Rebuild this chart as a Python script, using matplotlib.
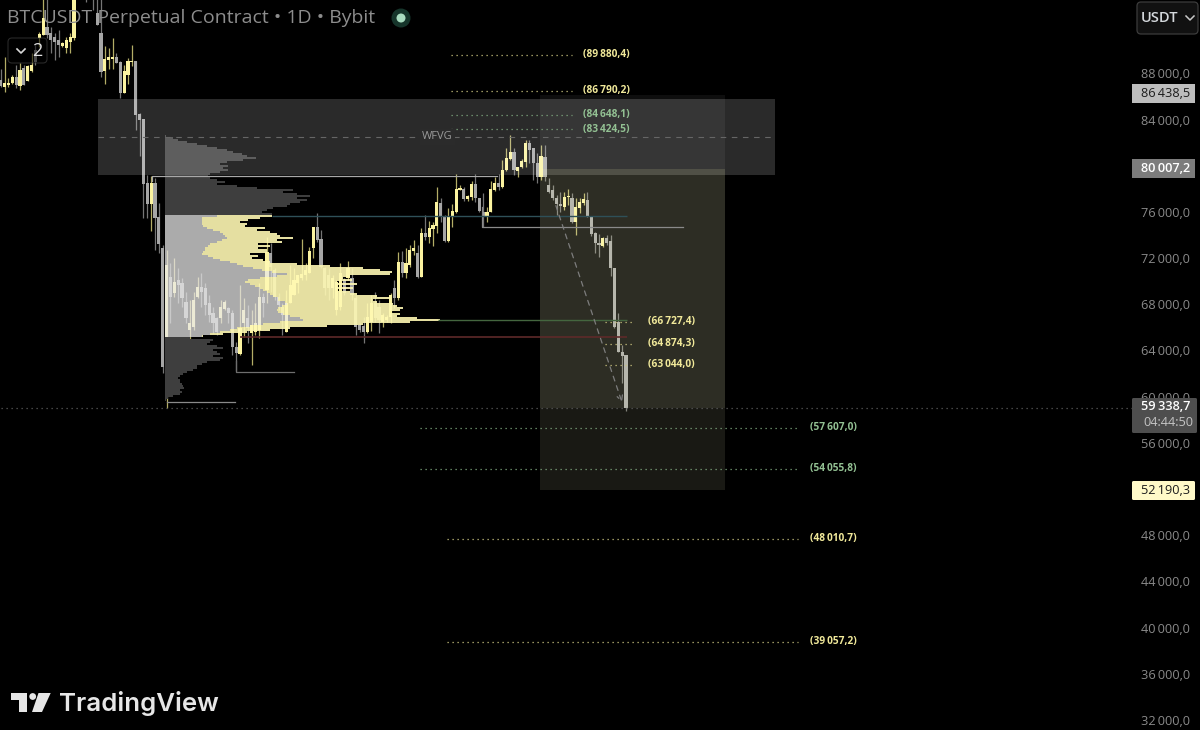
import numpy as np
import matplotlib
matplotlib.use("Agg")
import matplotlib.pyplot as plt
from matplotlib.patches import Circle, FancyBboxPatch, Polygon, Rectangle

plt.rcParams['font.family'] = ['Open Sans', 'DejaVu Sans']

# candles, prices in thousands
highs = [
    88.35, 89.38, 87.57, 87.83, 88.69, 88.86, 88.69, 88.69, 89.80, 90.42,
    91.54, 95.00, 95.00, 91.97, 91.45, 91.71, 90.68, 91.11, 91.45, 95.20,
    97.00, 97.20, 96.50, 96.50, 96.30, 95.00, 94.70, 90.33, 90.16, 91.02,
    89.73, 89.04, 88.69, 89.30, 90.42, 89.04, 84.60, 84.03, 79.19, 79.10,
    78.93, 76.77, 73.14, 72.70, 71.58, 72.00, 71.15, 70.29, 69.08, 68.39,
    69.08, 70.38, 70.72, 69.85, 68.82, 67.78, 66.92, 68.39, 68.39, 67.78,
    67.52, 64.76, 69.68, 68.56, 67.95, 67.52, 68.13, 69.85, 69.00, 73.83,
    73.31, 71.15, 69.00, 68.13, 69.25, 71.41, 71.15, 70.55, 73.66, 71.58,
    72.97, 74.70, 75.90, 74.44, 71.24, 71.15, 70.55, 70.11, 71.58, 70.29,
    71.76, 71.15, 68.82, 66.40, 66.92, 68.13, 68.82, 69.08, 68.39, 67.26,
    67.09, 69.00, 70.11, 72.53, 72.62, 72.88, 73.14, 73.57, 73.14, 74.61,
    75.73, 75.21, 75.13, 78.15, 77.20, 75.73, 76.34, 76.68, 79.27, 78.32,
    78.15, 77.46, 78.67, 79.27, 77.20, 77.63, 76.42, 78.67, 79.00, 79.27,
    80.48, 81.52, 82.64, 81.52, 79.88, 80.57, 82.21, 82.21, 81.52, 81.09,
    81.78, 81.78, 78.93, 78.32, 77.46, 77.72, 77.72, 77.98, 77.63, 77.20,
    77.20, 77.63, 77.72, 75.64, 74.26, 74.09, 73.83, 74.00, 74.00, 71.15,
    67.26, 64.50, 63.63,
]
lows = [
    86.79, 86.36, 86.79, 87.05, 86.70, 86.53, 86.96, 87.31, 88.09, 88.69,
    90.25, 91.28, 91.10, 89.80, 89.12, 89.38, 90.25, 89.80, 89.80, 90.85,
    95.60, 95.40, 94.15, 95.00, 93.44, 92.15, 87.65, 87.05, 88.35, 88.35,
    88.86, 85.84, 86.27, 87.05, 88.60, 83.08, 80.83, 75.47, 75.47, 74.35,
    72.71, 72.45, 62.08, 59.05, 66.40, 68.65, 68.13, 67.78, 66.40, 64.93,
    65.80, 68.56, 67.78, 67.09, 66.49, 65.54, 65.36, 66.40, 67.52, 66.40,
    63.63, 62.25, 63.63, 65.19, 64.67, 62.77, 65.36, 65.10, 66.92, 68.13,
    69.08, 68.39, 67.52, 65.36, 65.62, 68.13, 68.82, 69.00, 70.11, 70.11,
    70.72, 72.00, 73.40, 71.15, 68.82, 68.39, 68.56, 67.09, 67.52, 68.82,
    70.11, 68.39, 65.36, 65.62, 64.67, 65.54, 65.71, 66.49, 65.54, 66.05,
    66.49, 66.40, 67.69, 68.39, 70.38, 70.29, 71.24, 72.27, 70.29, 70.38,
    73.57, 73.31, 73.05, 74.18, 75.13, 73.40, 73.40, 74.70, 75.90, 77.89,
    76.94, 76.94, 77.03, 76.85, 75.99, 74.70, 75.13, 75.99, 77.81, 77.89,
    78.06, 79.53, 80.48, 79.19, 79.00, 79.79, 79.88, 80.22, 78.76, 78.50,
    78.76, 78.67, 77.63, 77.03, 75.73, 75.99, 76.16, 76.60, 75.04, 74.00,
    75.90, 76.60, 75.56, 73.92, 72.45, 72.10, 72.97, 73.14, 70.46, 65.97,
    63.89, 61.20, 58.80,
]
body_tops = [
    87.40, 87.14, 87.14, 87.65, 87.65, 88.26, 88.43, 88.60, 88.69, 90.00,
    91.37, 92.75, 91.97, 91.45, 91.11, 90.85, 90.59, 90.85, 91.11, 94.74,
    96.80, 96.80, 95.80, 96.00, 95.50, 93.18, 91.46, 89.21, 89.38, 89.38,
    89.38, 88.95, 88.17, 89.04, 89.04, 89.04, 84.46, 84.03, 78.50, 78.50,
    78.50, 75.56, 72.88, 71.40, 70.38, 69.94, 70.11, 69.85, 68.20, 66.40,
    68.39, 69.50, 69.50, 69.42, 68.13, 67.26, 66.83, 67.78, 68.20, 67.69,
    67.26, 64.33, 65.97, 67.52, 66.83, 66.23, 66.40, 68.65, 68.65, 72.53,
    72.45, 70.98, 68.65, 67.78, 68.13, 69.68, 70.11, 70.55, 70.63, 70.98,
    72.62, 74.70, 74.70, 73.66, 71.15, 70.55, 70.29, 69.94, 70.72, 70.11,
    71.15, 70.29, 68.56, 66.23, 66.14, 66.92, 68.13, 68.13, 67.78, 67.09,
    66.92, 68.82, 69.42, 71.67, 71.67, 71.58, 72.71, 72.88, 72.45, 74.18,
    74.18, 74.61, 74.87, 76.85, 76.77, 75.56, 75.56, 76.07, 77.98, 78.06,
    77.98, 77.37, 78.41, 78.41, 77.20, 75.99, 75.99, 77.98, 78.50, 78.50,
    79.62, 80.66, 81.17, 81.17, 79.88, 80.40, 81.95, 81.95, 81.52, 80.22,
    80.83, 80.74, 78.32, 77.89, 77.20, 76.68, 77.29, 77.37, 77.20, 76.42,
    76.85, 77.11, 77.03, 75.64, 74.18, 73.31, 73.74, 73.74, 73.48, 71.15,
    66.49, 63.89, 63.63,
]
body_bottoms = [
    86.88, 86.79, 86.96, 87.14, 86.96, 86.88, 86.96, 87.31, 88.17, 88.95,
    91.03, 91.28, 91.28, 90.85, 90.68, 90.42, 90.33, 90.16, 90.68, 91.02,
    96.00, 96.00, 95.00, 95.30, 94.40, 92.15, 88.09, 88.17, 89.12, 89.21,
    88.86, 86.27, 86.27, 87.83, 88.95, 84.37, 83.94, 78.41, 76.68, 76.68,
    75.47, 73.23, 62.60, 62.60, 68.65, 69.00, 69.68, 68.56, 66.83, 65.80,
    66.05, 68.65, 69.08, 67.95, 67.09, 66.40, 65.62, 66.83, 67.61, 67.26,
    64.33, 63.81, 63.72, 66.40, 65.97, 65.54, 65.62, 65.80, 68.13, 69.25,
    71.24, 68.65, 67.95, 67.09, 65.62, 68.13, 68.82, 69.85, 70.29, 70.55,
    70.72, 72.88, 73.57, 71.24, 69.42, 69.42, 69.42, 67.52, 67.78, 69.00,
    70.29, 68.82, 66.05, 65.80, 65.62, 65.62, 66.49, 66.83, 66.66, 66.49,
    66.66, 66.92, 68.56, 68.56, 70.72, 70.72, 71.41, 72.62, 70.38, 70.38,
    73.83, 73.83, 74.52, 74.78, 75.56, 73.48, 73.48, 75.56, 75.99, 77.89,
    77.11, 77.11, 77.29, 77.20, 76.07, 75.56, 75.56, 75.99, 77.89, 78.15,
    78.15, 79.62, 80.57, 79.62, 79.53, 79.88, 80.31, 81.35, 80.22, 79.01,
    79.01, 78.98, 77.72, 77.20, 76.68, 76.51, 76.42, 77.29, 75.13, 75.13,
    76.34, 76.77, 75.64, 74.09, 73.31, 73.14, 73.05, 73.31, 71.15, 66.05,
    63.89, 63.55, 59.05,
]
candle_colors = (
    "GYYYGYGYYG" "YYGGGGYYYY" "YGGYGGGYYY" "GGYYYGGGGY"
    "GGGYGYGGGY" "YYGGGGGYYG" "GGYYGYYYGY" "GGGGYYYYYY"
    "YYGGGGYYYG" "YGGGGYYGGY" "YYGYGYYYGY" "GYYYGGYYYY"
    "GYYGGGYYYG" "YYYGYYYGGG" "YGGGGGYYGY" "YYGGGGYGGG" "GGG"
)
READ_OFFSET = 0.29  # tick labels sit ~3px above their real price

# volume profile, one row per price bin, top to bottom
vol_above = [
    1, 8, 13, 22, 32, 42, 52, 62, 68, 77, 82, 91, 78, 62, 55, 63, 58, 63, 55, 45,
    43, 45, 52, 60, 52, 72, 92, 128, 118, 132, 145, 132, 142, 135, 125, 122, 108,
    102, 97, 107,
]
vol_value = [
    107, 95, 83, 75, 82, 80, 100, 92, 105, 112, 115, 128, 112, 117, 93, 105, 93,
    102, 102, 85, 93, 87, 98, 105, 132, 165, 198, 215, 227, 225, 185, 178, 187,
    172, 192, 172, 188, 172, 185, 192, 212, 225, 208, 212, 228, 232, 238, 235, 225,
    235, 232, 252, 275, 245, 198, 162, 125, 105, 82, 58, 38,
]
vol_value_down = [
    52, 37, 37, 37, 37, 38, 42, 48, 55, 58, 60, 62, 57, 52, 45, 43, 40, 40, 38, 37,
    43, 48, 55, 65, 72, 78, 88, 97, 107, 122, 112, 95, 83, 80, 85, 90, 95, 98, 102,
    105, 108, 113, 113, 120, 122, 117, 113, 112, 113, 118, 125, 135, 138, 115, 98,
    85, 72, 65, 55, 45, 37,
]
vol_below = [
    25, 48, 45, 42, 52, 58, 48, 52, 55, 48, 58, 55, 42, 37, 32, 32, 28, 22, 18, 15,
    13, 15, 15, 17, 18, 19, 15, 17, 15, 8, 3, 1,
]
PROFILE_TOP = 82.86
PROFILE_STEP = 0.1732

# levels: price, start bar, end bar
axis_ticks = [88, 84, 76, 72, 68, 64, 60, 56, 48, 44, 40, 36, 32]
fib_prices = [89880.4, 86790.2, 84648.1, 83424.5, 66727.4, 64874.3, 63044.0,
              57607.0, 54055.8, 48010.7, 39057.2]
fib_green = [False, False, True, True, False, False, False, True, True, False, False]
fib_start = [116.7, 116.7, 116.7, 116.7, 156.6, 156.6, 156.6, 108.6, 108.6, 115.6, 115.6]
fib_end = [148, 148, 148, 148, 164.1, 164.1, 164.1, 206.6, 206.6, 206.6, 206.6]
fib_label_bar = [150.9, 150.9, 150.9, 150.9, 167.7, 167.7, 167.7, 209.7, 209.7, 209.7, 209.7]

last_price = 59338.7
tp_price = 86438.5
entry_price = 80007.2
stop_price = 52190.3


def price_text(value, decimals=1):
    whole, frac = f"{value:.{decimals}f}".split(".")
    return f"{int(whole[:-3])}\u2009{whole[-3:]},{frac}"


YELLOW = "#fbf3a0"
GREY = "#a6a6a6"
GREEN_TXT = "#93c193"
YELLOW_TXT = "#f1e99a"

fig = plt.figure(figsize=(12, 7.3), dpi=100, facecolor="black")
ax = fig.add_axes([0, 0, 1, 1], facecolor="black")
ax.set_xlim(-0.168, 310.7)
ax.set_ylim(31430, 94637)
ax.axis("off")

bars = np.arange(len(highs))
h = (np.array(highs) + READ_OFFSET) * 1000
l = (np.array(lows) + READ_OFFSET) * 1000
t = (np.array(body_tops) + READ_OFFSET) * 1000
b = (np.array(body_bottoms) + READ_OFFSET) * 1000
up = np.array([c == "Y" for c in candle_colors])

ax.vlines(bars[up], l[up], h[up], color="#b3ad66", lw=0.9, zorder=2)
ax.vlines(bars[~up], l[~up], h[~up], color="#757575", lw=0.9, zorder=2)
ax.bar(bars[up], (t - b)[up], bottom=b[up], width=0.82, color=YELLOW, lw=0, zorder=2)
ax.bar(bars[~up], (t - b)[~up], bottom=b[~up], width=0.82, color=GREY, lw=0, zorder=2)

# profile sits on top of the candles, slightly see through
n_above, n_value = len(vol_above), len(vol_value)
rows = PROFILE_TOP - PROFILE_STEP * np.arange(n_above + n_value + len(vol_below))
rows = rows * 1000
row_h = PROFILE_STEP * 1000 * 0.74
px_bar = 1 / 3.86
left = 42.6
ax.barh(rows[:n_above], np.array(vol_above) * px_bar, left=left, height=row_h,
        color="#3e3e3e", lw=0, zorder=3)
ax.barh(rows[n_above + n_value:], np.array(vol_below) * px_bar, left=left, height=row_h,
        color="#3e3e3e", lw=0, zorder=3)
value_rows = rows[n_above:n_above + n_value]
down_len = np.array(vol_value_down) * px_bar
up_len = (np.array(vol_value) - np.array(vol_value_down)) * px_bar
ax.barh(value_rows, down_len, left=left, height=row_h,
        color="#e8e8e8", alpha=0.74, lw=0, zorder=3)
ax.barh(value_rows, up_len, left=left + down_len, height=row_h,
        color="#fff9b4", alpha=0.9, lw=0, zorder=3)

# WFVG zone and the long/short position boxes
ax.add_patch(Rectangle((25.2, 79490), 175.4, 6570, fc="white", alpha=0.17, lw=0, zorder=4))
ax.add_patch(Rectangle((139.7, entry_price), 48, tp_price - entry_price, fc="white",
                       alpha=0.06, lw=0, zorder=4))
ax.add_patch(Rectangle((139.7, last_price), 48, entry_price - last_price, fc="#ffffc8",
                       alpha=0.18, lw=0, zorder=4))
ax.add_patch(Rectangle((139.7, stop_price), 48, last_price - stop_price, fc="#ffffc8",
                       alpha=0.10, lw=0, zorder=4))
ax.plot([25.2, 200.6], [82780, 82780], color="#666666", lw=0.8, dashes=(5, 5), zorder=5)
ax.text(113.2, 82780, "WFVG", color="#9a9a9a", fontsize=8, ha="center", va="center",
        zorder=6, bbox=dict(fc="#2b2b2b", ec="none", pad=1.5))

# key levels
ax.plot([39.2, 39.2, 128.6], [79000, 79440, 79440], color="#a8a8a8", lw=0.9, zorder=5)
ax.plot([124.7, 124.7, 176.8], [76700, 74980, 74980], color="#8a8a8a", lw=0.9, zorder=5)
ax.plot([61, 61, 76], [63400, 62460, 62460], color="#6e6e6e", lw=0.9, zorder=5)
ax.plot([43.1, 60.7], [59860, 59860], color="#8a8a8a", lw=0.9, zorder=5)
ax.hlines(75930, 70.3, 162.3, color="#2e5058", lw=1, zorder=5)
ax.hlines(66900, 113.3, 162.3, color="#44663f", lw=1, zorder=5)
ax.hlines(65480, 62, 162.3, color="#5e2a2a", lw=1.2, zorder=5)
ax.annotate("", xy=(161.2, 59570), xytext=(143.6, 77060),
            arrowprops=dict(arrowstyle="->", color="#7d7d7d", lw=0.9, ls=(0, (4, 4))), zorder=5)
ax.plot([0, 293.9], [last_price, last_price], color="#5c5c5c", lw=0.9,
        dashes=(1, 3), zorder=5)

for price, green, start, end, label_bar in zip(fib_prices, fib_green, fib_start, fib_end, fib_label_bar):
    line_c = "#7fa87f" if green else "#c9c27e"
    txt_c = GREEN_TXT if green else YELLOW_TXT
    ax.plot([start, end], [price, price], color=line_c, lw=0.9, dashes=(1, 3), zorder=5)
    ax.text(label_bar, price + 40, f"({price_text(price)})", color=txt_c, fontsize=7.3,
            fontweight="bold", va="center", zorder=6)

for tick in axis_ticks:
    ax.text(308.1, tick * 1000 + 160, price_text(tick * 1000), color="#8a8a8a",
            fontsize=9.2, ha="right", va="center", zorder=6)

# everything below is screen furniture, drawn in pixels
ui = fig.add_axes([0, 0, 1, 1], facecolor="none")
ui.set_xlim(0, 1200)
ui.set_ylim(730, 0)
ui.axis("off")

ui.text(7, 18, "BTCUSDT Perpetual Contract \u2022 1D \u2022 Bybit", color="#8d8d8d",
        fontsize=14, va="center")
ui.add_patch(Circle((401, 18), 9.5, fc="#16352b", lw=0))
ui.add_patch(Circle((401, 18), 4.5, fc="#a9dcc0", lw=0))

ui.add_patch(FancyBboxPatch((8, 38), 39, 25, boxstyle="round,pad=0,rounding_size=4",
                            fc="#000000", alpha=0.55, ec="#4a4a4a", lw=0.8))
ui.plot([17, 21, 25], [49, 53, 49], color="#d8d8d8", lw=1.2)
ui.text(37.5, 51, "2", color="#e0e0e0", fontsize=13, ha="center", va="center")

ui.add_patch(FancyBboxPatch((1137, 2), 61, 32, boxstyle="round,pad=0,rounding_size=4",
                            fc="#111111", ec="#3c3c3c", lw=0.9))
ui.text(1141, 18, "USDT", color="#d4d8dc", fontsize=10.5, va="center", fontweight="semibold")
ui.plot([1186, 1190, 1194], [16, 20, 16], color="#c8c8c8", lw=1.1)

label_x = 1132
ui.add_patch(Rectangle((label_x, 84), 63, 19, fc="#bdbdbd", lw=0))
ui.text(1190, 93.5, price_text(tp_price), color="#1c1c1c", fontsize=9.2, ha="right", va="center")
ui.add_patch(Rectangle((label_x, 159), 63, 19, fc="#7c7c7c", lw=0))
ui.text(1190, 168.5, price_text(entry_price), color="white", fontsize=9.2, ha="right",
        va="center", fontweight="semibold")
ui.add_patch(FancyBboxPatch((label_x, 398), 65, 35, boxstyle="round,pad=0,rounding_size=1.5",
                            fc="#4e4e4e", lw=0))
ui.text(1190, 406, price_text(last_price), color="white", fontsize=9.2, ha="right",
        va="center", fontweight="semibold")
ui.text(1193, 422, "04:44:50", color="#c4c4c4", fontsize=9.2, ha="right", va="center")
ui.add_patch(FancyBboxPatch((label_x, 481), 63, 19, boxstyle="round,pad=0,rounding_size=1.5",
                            fc="#fff9c8", lw=0))
ui.text(1190, 490, price_text(stop_price), color="#1c1c1c", fontsize=9.2, ha="right", va="center")

# TradingView mark
ui.add_patch(Polygon([(11, 693), (27, 693), (27, 712), (19, 712), (19, 700), (11, 700)],
                     fc="#e6e6e6", lw=0))
ui.add_patch(Circle((32.7, 696.5), 3.4, fc="#e6e6e6", lw=0))
ui.add_patch(Polygon([(38.5, 693), (50.7, 693), (42, 712), (32, 712)], fc="#e6e6e6", lw=0))
ui.text(59, 703, "TradingView", color="#e6e6e6", fontsize=18.6, fontweight="semibold",
        va="center", family=["Inter", "DejaVu Sans"])

fig.savefig("out.png", dpi=100, facecolor="black")
